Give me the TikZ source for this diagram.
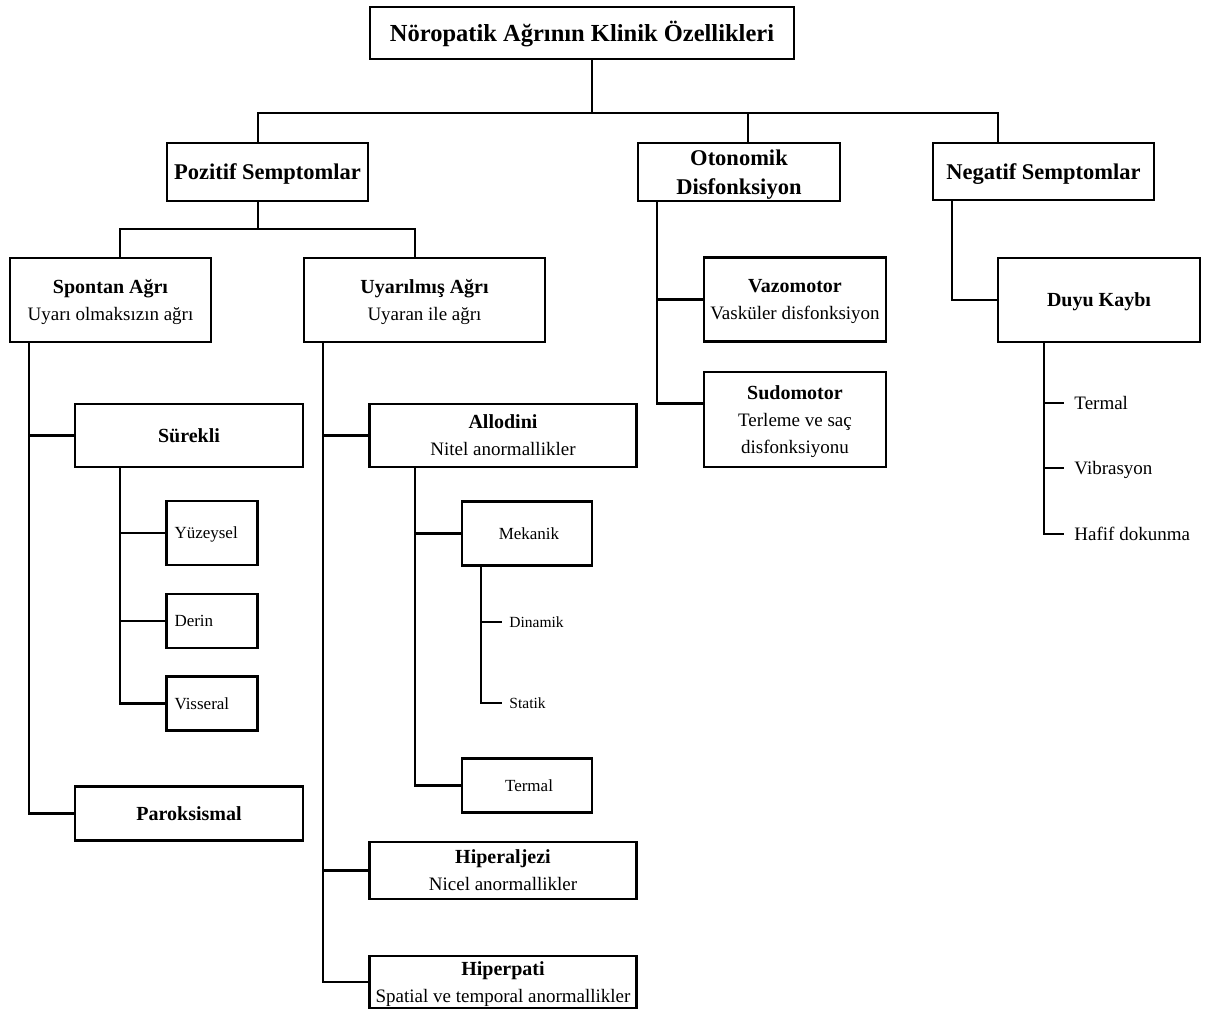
\documentclass[tikz,border=0pt]{standalone}
\usepackage{fontspec}
\setmainfont{Liberation Serif}
% line strut with the ascent/descent of the font, so text is centred on its line box
\newcommand\lnstrut{\rule[-0.216em]{0pt}{1.107em}}
\begin{document}
\begin{tikzpicture}[x=1pt,y=-1pt,line width=2.9pt,
  box/.style={draw,line width=2.9pt,rectangle,inner sep=0pt,align=center,
    font=\fontsize{19}{27}\selectfont},
  head/.style={box,font=\fontsize{22.5}{29}\selectfont\bfseries},
  small/.style={box,font=\fontsize{17}{22}\selectfont},
  tag/.style={inner sep=0pt,anchor=west,text height=12.6pt,text depth=0pt,
    font=\fontsize{19}{23}\selectfont},
  subtag/.style={inner sep=0pt,anchor=west,text height=10.3pt,text depth=0pt,
    font=\fontsize{15.5}{19}\selectfont}]
\useasboundingbox (0,0) rectangle (1211,1014);

% ---------- boxes ----------
\node[box,minimum width=424pt,minimum height=52pt] (title) at (582,33)
  {\fontsize{24.5}{29}\selectfont\bfseries\lnstrut Nöropatik Ağrının Klinik Özellikleri};

\node[head,minimum width=201pt,minimum height=58pt] (pos) at (267.5,172) {\lnstrut Pozitif Semptomlar};
\node[head,minimum width=202pt,minimum height=58pt] (oto) at (739,172) {\lnstrut Otonomik\\\lnstrut Disfonksiyon};
\node[head,minimum width=221pt,minimum height=57pt] (neg) at (1043.5,171.5) {\lnstrut Negatif Semptomlar};

\node[box,minimum width=201pt,minimum height=84pt] (spon) at (110.5,300)
  {{\fontsize{20}{27}\selectfont\bfseries\lnstrut Spontan Ağrı}\\\lnstrut Uyarı olmaksızın ağrı};
\node[box,minimum width=241pt,minimum height=84pt] (uyar) at (424.5,300)
  {{\fontsize{20}{27}\selectfont\bfseries\lnstrut Uyarılmış Ağrı}\\\lnstrut Uyaran ile ağrı};
\node[box,minimum width=182pt,minimum height=84pt] (vazo) at (795,299.5)
  {{\fontsize{20}{27}\selectfont\bfseries\lnstrut Vazomotor}\\\lnstrut Vasküler disfonksiyon};
\node[box,minimum width=182pt,minimum height=95pt] (sudo) at (795,419.5)
  {{\fontsize{20}{27}\selectfont\bfseries\lnstrut Sudomotor}\\\lnstrut Terleme ve saç\\\lnstrut disfonksiyonu};
\node[box,minimum width=202pt,minimum height=84pt] (duyu) at (1099,300)
  {\fontsize{20}{27}\selectfont\bfseries\lnstrut Duyu Kaybı};

\node[box,minimum width=228pt,minimum height=63pt] (sur) at (189,435.5)
  {\fontsize{20}{27}\selectfont\bfseries\lnstrut Sürekli};
\node[box,minimum width=228pt,minimum height=54pt] (par) at (189,813.5)
  {\fontsize{20}{27}\selectfont\bfseries\lnstrut Paroksismal};

\node[small,minimum width=91pt,minimum height=64pt,text width=75pt,align=left,inner xsep=8pt] (yuz) at (212,533) {\lnstrut Yüzeysel};
\node[small,minimum width=91pt,minimum height=54pt,text width=75pt,align=left,inner xsep=8pt] (der) at (212,621) {\lnstrut Derin};
\node[small,minimum width=91pt,minimum height=54pt,text width=75pt,align=left,inner xsep=8pt] (vis) at (212,703.5) {\lnstrut Visseral};

\node[box,minimum width=267pt,minimum height=63pt] (allo) at (503,435.5)
  {{\fontsize{20}{26}\selectfont\bfseries\lnstrut Allodini}\\\lnstrut Nitel anormallikler};
\node[box,minimum width=267pt,minimum height=57pt] (hipa) at (503,870.5)
  {{\fontsize{20}{26}\selectfont\bfseries\lnstrut Hiperaljezi}\\\lnstrut Nicel anormallikler};
\node[box,minimum width=267pt,minimum height=52pt] (hipp) at (503,982)
  {{\fontsize{20}{26}\selectfont\bfseries\lnstrut Hiperpati}\\\lnstrut Spatial ve temporal anormallikler};

\node[small,minimum width=130pt,minimum height=64pt] (mek) at (527,533.5) {\hspace*{4pt}\lnstrut Mekanik};
\node[small,minimum width=130pt,minimum height=54pt] (term) at (527,785.5) {\hspace*{4pt}\lnstrut Termal};

% ---------- plain labels ----------
\node[subtag] (din) at (508,622) {Dinamik};
\node[subtag] (sta) at (508,703) {Statik};
\node[tag] (nt) at (1073,403) {Termal};
\node[tag] (nv) at (1073,468) {Vibrasyon};
\node[tag] (nh) at (1073,534) {Hafif dokunma};

% ---------- top level bus ----------
\coordinate (tj) at (592,113);
\coordinate (pj) at (258,113);
\coordinate (oj) at (748,113);
\coordinate (nj) at (998,113);
\draw (title.south -| tj) -- (tj);
\draw (pos.north -| pj) -- (pj) -- (nj) -- (neg.north -| nj);
\draw (oj) -- (oto.north -| oj);

% ---------- positive symptoms ----------
\coordinate (sj) at (120,229);
\coordinate (uj) at (415,229);
\draw (pos.south -| pj) -- (pj |- sj);
\draw (spon.north -| sj) -- (sj) -- (uj) -- (uyar.north -| uj);

\coordinate (sx) at (29,0);
\draw (spon.south -| sx) |- (sur.west);
\draw (spon.south -| sx) |- (par.west);

\coordinate (kx) at (120,0);
\draw (sur.south -| kx) |- (yuz.west);
\draw (sur.south -| kx) |- (der.west);
\draw (sur.south -| kx) |- (vis.west);

\coordinate (ux) at (323,0);
\draw (uyar.south -| ux) |- (allo.west);
\draw (uyar.south -| ux) |- (hipa.west);
\draw (uyar.south -| ux) |- (hipp.west);

\coordinate (ax) at (415,0);
\draw (allo.south -| ax) |- (mek.west);
\draw (allo.south -| ax) |- (term.west);

\coordinate (mx) at (481,0);
\draw (mek.south -| mx) |- ([xshift=-6pt]din.west);
\draw (mek.south -| mx) |- ([xshift=-6pt]sta.west);

% ---------- autonomic dysfunction ----------
\coordinate (ox) at (657,0);
\draw (oto.south -| ox) |- (vazo.west);
\draw (oto.south -| ox) |- ([yshift=16pt]sudo.west);

% ---------- negative symptoms ----------
\coordinate (nx) at (952,0);
\draw (neg.south -| nx) |- (duyu.west);

\coordinate (dx) at (1044,0);
\draw (duyu.south -| dx) |- ([xshift=-9pt]nt.west);
\draw (duyu.south -| dx) |- ([xshift=-9pt]nv.west);
\draw (duyu.south -| dx) |- ([xshift=-9pt]nh.west);
\end{tikzpicture}
\end{document}
